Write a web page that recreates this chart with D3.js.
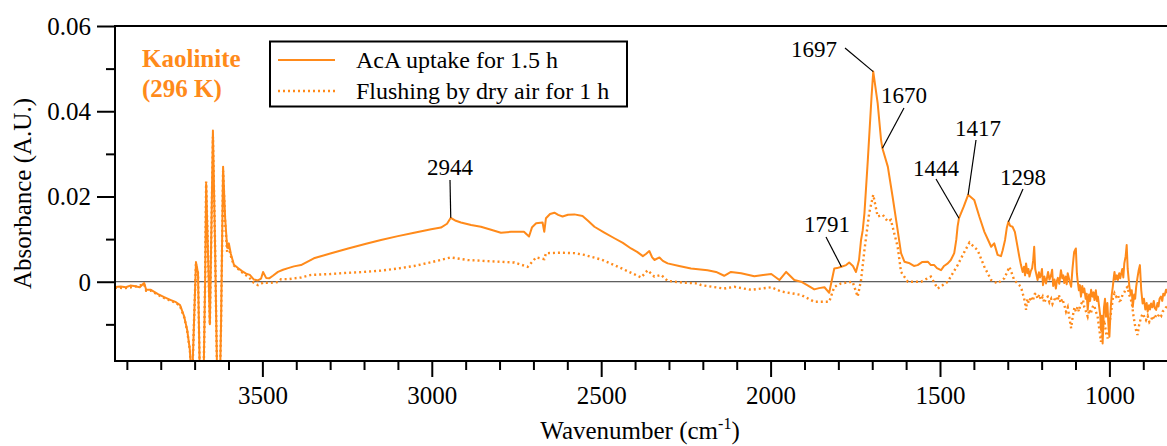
<!DOCTYPE html>
<html><head><meta charset="utf-8">
<script src="https://cdn.jsdelivr.net/npm/d3@7"></script>
<style>
html,body{margin:0;padding:0;background:#fff;}
svg{display:block;}
svg text{font-family:"Liberation Serif","Times New Roman",serif;}
</style></head><body>
<svg id="chart" width="1167" height="446"></svg>
<script>
// Axis ticks
const majorWavenumbers = [3500, 3000, 2500, 2000, 1500, 1000];
const minorWavenumbers = [3900, 3800, 3700, 3600, 3400, 3300, 3200, 3100, 2900, 2800, 2700, 2600,
  2400, 2300, 2200, 2100, 1900, 1800, 1700, 1600, 1400, 1300, 1200, 1100, 900];
const majorAbsorbance = [0, 0.02, 0.04, 0.06];
const majorAbsorbanceLabels = ["0", "0.02", "0.04", "0.06"];
const minorAbsorbance = [-0.01, 0.01, 0.03, 0.05];

// Series names
const seriesNames = ["AcA uptake for 1.5 h", "Flushing by dry air for 1 h"];
const sampleName = ["Kaolinite", "(296 K)"];

// Labelled band positions (cm-1)
const peakLabels = [2944, 1791, 1697, 1670, 1444, 1417, 1298];

// Spectrum after 1.5 h of acetic acid uptake: [wavenumber, absorbance]
const uptake = [
[3935,-0.00125],[3918,-0.0011],[3903,-0.0013],[3890,-0.0009],[3879,-0.0010],[3862,-0.0013],[3849,-0.0003],[3843,-0.0019],[3829,-0.0019],[3808,-0.0029],
[3790,-0.0036],[3770,-0.0043],[3755,-0.0048],[3743,-0.0055],[3731,-0.0081],[3722,-0.0113],[3714,-0.016],
[3708,-0.025],[3702,-0.01],[3696,0.0046],[3690,0.002],[3684,-0.025],[3675,-0.03],[3669,0.0],[3666,0.023],
[3660,0.005],[3655,-0.01],[3649,0.02],[3646,0.0355],[3640,0.01],[3634,-0.02],[3628,-0.035],[3622,-0.01],
[3616,0.027],[3610,0.015],[3604,0.008],[3599,0.009],[3593,0.0065],[3584,0.0040],[3572,0.0032],[3560,0.0025],
[3548,0.0019],[3537,0.0016],[3525,0.0005],[3513,0.0003],[3504,0.0007],[3498,0.0023],[3489,0.0009],[3480,0.0008],
[3469,0.0014],[3454,0.0023],[3439,0.0028],[3424,0.0032],[3407,0.0036],[3386,0.0039],[3348,0.0055],[3297,0.0067],
[3247,0.0078],[3194,0.0089],[3150,0.0098],[3100,0.0107],[3052,0.0115],[3002,0.0123],[2973,0.0127],[2955,0.0136],
[2944,0.0150],[2929,0.0143],[2914,0.0139],[2884,0.0133],[2855,0.0129],[2825,0.0122],[2796,0.0115],[2766,0.0117],
[2728,0.0117],[2713,0.0106],[2704,0.0128],[2692,0.0137],[2673,0.0139],[2668,0.0117],[2663,0.0149],[2651,0.0159],
[2638,0.0162],[2627,0.0157],[2614,0.0153],[2598,0.0157],[2579,0.0158],[2555,0.0154],[2539,0.0143],[2520,0.0129],
[2492,0.0116],[2461,0.0102],[2436,0.0091],[2412,0.0078],[2394,0.0070],[2377,0.0060],[2368,0.0065],[2358,0.0072],
[2350,0.0058],[2343,0.0051],[2328,0.0057],[2318,0.0049],[2304,0.0043],[2270,0.0037],[2235,0.0031],[2186,0.0027],
[2161,0.0023],[2137,0.0014],[2117,0.0023],[2087,0.0020],[2048,0.0013],[2022,0.0016],[1998,0.0018],[1974,0.0004],
[1954,0.0023],[1930,0.0004],[1910,0.0],[1892,-0.0008],[1871,-0.0018],[1857,-0.0015],[1841,-0.0013],[1827,-0.0026],
[1812,0.0031],[1804,0.0032],[1791,0.0035],[1777,0.0039],[1768,0.0045],[1757,0.0037],[1748,0.0023],[1739,0.0051],
[1733,0.0098],[1728,0.0121],[1723,0.0161],[1713,0.0286],[1702,0.0435],[1697,0.0493],[1684,0.0419],[1674,0.0333],
[1670,0.0313],[1654,0.0270],[1640,0.0200],[1625,0.0121],[1615,0.0067],[1605,0.0047],[1592,0.0044],[1577,0.0037],
[1566,0.0039],[1553,0.0046],[1536,0.0047],[1527,0.0039],[1517,0.0039],[1509,0.0032],[1497,0.0027],[1488,0.0037],
[1477,0.0043],[1468,0.0051],[1458,0.0067],[1452,0.0098],[1448,0.0130],[1444,0.0149],[1430,0.0176],[1417,0.0204],
[1399,0.0192],[1384,0.0153],[1369,0.0117],[1358,0.0098],[1349,0.0082],[1340,0.0090],[1330,0.0063],[1320,0.0060],
[1315,0.0074],[1308,0.0098],[1303,0.0126],[1298,0.0141],[1293,0.0131],[1286,0.0129],[1279,0.0117],[1272,0.0086],
[1266,0.0059],[1261,0.0039],[1256,0.0023],[1252,0.0035],[1249,0.0015],[1246,0.0043],[1242,0.0020],[1239,0.0030],
[1236,0.0012],[1232,0.0025],[1228,0.0032],[1225,0.0050],[1222,0.0082],[1219,0.0030],[1215,0.0015],[1212,0.0004],
[1208,0.0022],[1205,0.0010],[1202,0.0016],[1199,0.0030],[1196,-0.0008],[1192,0.0012],[1187,-0.0004],[1184,0.0010],
[1181,0.0023],[1177,0.0005],[1172,0.0016],[1169,0.0028],[1166,-0.0010],[1162,0.0005],[1158,-0.0016],[1155,0.0002],
[1152,0.0009],[1148,-0.0005],[1143,0.0027],[1139,0.0008],[1136,0.0015],[1133,-0.0003],[1129,0.0012],[1126,-0.0006],
[1123,0.0020],[1118,0.0003],[1113,-0.0012],[1109,0.0030],[1106,0.0055],[1104,0.0070],[1099,0.0078],[1096,0.0020],
[1094,0.0004],[1090,-0.0020],[1087,-0.0008],[1084,-0.0035],[1080,-0.0010],[1077,-0.0025],[1074,-0.0016],[1070,-0.0040],
[1067,-0.0028],[1064,-0.0066],[1060,-0.0030],[1057,-0.0045],[1054,-0.0019],[1050,-0.0035],[1047,-0.0025],[1044,-0.0043],
[1040,-0.0020],[1037,-0.0045],[1034,-0.0035],[1030,-0.0060],[1027,-0.0080],[1025,-0.0113],[1022,-0.0080],[1020,-0.0145],
[1016,-0.0060],[1013,-0.0040],[1010,-0.0082],[1006,-0.0050],[1003,-0.0100],[1000,-0.0129],[996,-0.0060],[993,-0.0030],
[990,-0.0012],[987,0.0010],[985,0.0023],[982,0.0005],[978,0.0015],[975,0.0004],[971,0.0020],[968,0.0008],
[966,0.0016],[962,0.0030],[959,0.0010],[956,0.0043],[952,0.0060],[949,0.0086],[946,0.0030],[943,0.0005],
[941,-0.0012],[937,-0.0030],[934,-0.0020],[931,-0.0059],[927,-0.0030],[924,-0.0040],[921,-0.0012],[917,0.0010],
[914,0.0025],[910,0.0039],[906,-0.0020],[902,-0.0051],[898,-0.0040],[894,-0.0065],[890,-0.0050],[887,-0.0070],
[883,-0.0055],[880,-0.0065],[877,-0.0051],[873,-0.0060],[869,-0.0045],[866,-0.0062],[862,-0.0066],[858,-0.0050],
[855,-0.0058],[852,-0.0040],[848,-0.0035],[844,-0.0045],[841,-0.0028],[837,-0.0032],[833,-0.0019],[830,-0.0025],
[827,-0.0015]
];

// Spectrum after 1 h of flushing with dry air: [wavenumber, absorbance]
const flushing = [
[3935,-0.0014],[3903,-0.0015],[3879,-0.0012],[3849,-0.0006],[3843,-0.0021],[3829,-0.0021],[3808,-0.0031],
[3790,-0.0038],[3770,-0.0045],[3755,-0.0050],[3743,-0.0057],[3731,-0.0083],[3722,-0.0115],[3714,-0.016],
[3708,-0.025],[3702,-0.01],[3696,0.0042],[3690,0.002],[3684,-0.025],[3675,-0.03],[3669,0.0],[3666,0.0235],
[3660,0.005],[3655,-0.01],[3649,0.019],[3646,0.034],[3640,0.01],[3634,-0.02],[3628,-0.035],[3622,-0.01],
[3616,0.026],[3610,0.014],[3604,0.007],[3599,0.008],[3593,0.0060],[3584,0.0038],[3572,0.0030],[3560,0.0022],
[3548,0.0015],[3537,0.0008],[3525,-0.0003],[3513,-0.0008],[3498,-0.0002],[3480,-0.0003],[3454,-0.0001],[3445,0.0006],
[3424,0.0006],[3386,0.0010],[3356,0.0016],[3300,0.0018],[3248,0.0021],[3200,0.0023],[3150,0.0026],[3100,0.0031],
[3052,0.0037],[3000,0.0046],[2944,0.0057],[2894,0.0051],[2850,0.0049],[2800,0.0047],[2756,0.0045],[2717,0.0035],
[2692,0.0057],[2668,0.0053],[2663,0.0067],[2620,0.0068],[2579,0.0067],[2550,0.0063],[2500,0.0052],[2461,0.0039],
[2420,0.0024],[2382,0.0010],[2363,0.0027],[2343,0.0012],[2323,0.0016],[2304,0.0002],[2260,-0.0002],[2215,-0.0004],
[2205,-0.0008],[2137,-0.0016],[2107,-0.0012],[2058,-0.0019],[1998,-0.0013],[1969,-0.0023],[1939,-0.0027],[1910,-0.0031],
[1871,-0.0047],[1827,-0.0047],[1812,-0.0012],[1792,-0.0004],[1758,0.0],[1743,-0.0035],[1733,0.0004],[1723,0.0074],
[1709,0.0161],[1697,0.0204],[1684,0.0153],[1669,0.0157],[1654,0.0141],[1645,0.0145],[1625,0.0082],[1615,0.0023],
[1595,0.0],[1556,0.0],[1527,0.0012],[1507,-0.0016],[1477,0.0],[1448,0.0039],[1428,0.0070],[1413,0.0092],
[1389,0.0074],[1369,0.0035],[1349,0.0004],[1330,-0.0004],[1310,0.0008],[1295,0.0035],[1281,0.0004],[1261,-0.0012],
[1255,-0.0030],[1250,-0.0045],[1246,-0.0066],[1242,-0.0040],[1238,-0.0050],[1231,-0.0035],[1226,-0.0045],[1221,-0.0030],
[1217,-0.0027],[1212,-0.0040],[1207,-0.0030],[1202,-0.0043],[1197,-0.0035],[1192,-0.0050],[1187,-0.0038],[1182,-0.0035],
[1177,-0.0048],[1172,-0.0040],[1168,-0.0052],[1163,-0.0043],[1158,-0.0035],[1153,-0.0045],[1149,-0.0031],[1144,-0.0050],
[1139,-0.0040],[1133,-0.0055],[1128,-0.0070],[1123,-0.0060],[1118,-0.0085],[1113,-0.0109],[1108,-0.0080],[1103,-0.0060],
[1099,-0.0070],[1094,-0.0059],[1090,-0.0070],[1086,-0.0055],[1082,-0.0050],[1078,-0.0043],[1074,-0.0060],[1069,-0.0070],
[1064,-0.0082],[1059,-0.0065],[1055,-0.0075],[1050,-0.0060],[1045,-0.0055],[1040,-0.0070],[1035,-0.0080],[1030,-0.0110],
[1025,-0.0141],[1020,-0.0110],[1015,-0.0090],[1010,-0.0120],[1005,-0.0133],[1000,-0.0100],[995,-0.0070],[990,-0.0040],
[985,-0.0027],[980,-0.0035],[975,-0.0030],[970,-0.0045],[966,-0.0043],[961,-0.0030],[956,-0.0025],[951,-0.0015],
[946,-0.0012],[942,-0.0030],[937,-0.0040],[933,-0.0055],[929,-0.0080],[925,-0.0100],[921,-0.0115],[917,-0.0125],
[912,-0.0100],[907,-0.0085],[902,-0.0075],[897,-0.0082],[892,-0.0090],[887,-0.0080],[882,-0.0095],[877,-0.0090],
[872,-0.0080],[867,-0.0088],[862,-0.0078],[857,-0.0082],[852,-0.0075],[847,-0.0080],[843,-0.0070],[838,-0.0066],
[833,-0.0060],[827,-0.0057]
];

// ---------- layout ----------
const W = 1167, H = 446;
const plot = {left: 115, right: 1167, top: 26, bottom: 361};
const orange = "#ff8a1a";
const serif = "'Liberation Serif','Times New Roman',serif";
const axisFont = 25;

const svg = d3.select("#chart");

const x = d3.scaleLinear().domain([3935, 830]).range([plot.left, plot.right]);
const y = d3.scaleLinear().domain([-0.0186, 0.06]).range([plot.bottom, plot.top]);

svg.append("defs").append("clipPath").attr("id", "plotClip")
  .append("rect")
  .attr("x", plot.left).attr("y", plot.top)
  .attr("width", plot.right - plot.left).attr("height", plot.bottom - plot.top);

// zero baseline
svg.append("line")
  .attr("x1", plot.left).attr("x2", plot.right)
  .attr("y1", y(0)).attr("y2", y(0))
  .attr("stroke", "#333").attr("stroke-width", 1);

// spectra
const line = d3.line().x(d => x(d[0])).y(d => y(d[1]));
const traces = svg.append("g").attr("clip-path", "url(#plotClip)");
traces.append("path").datum(flushing)
  .attr("d", line).attr("fill", "none")
  .attr("stroke", orange).attr("stroke-width", 2.4)
  .attr("stroke-dasharray", "2,3");
traces.append("path").datum(uptake)
  .attr("d", line).attr("fill", "none")
  .attr("stroke", orange).attr("stroke-width", 2).attr("stroke-linejoin", "round");

// ---------- axes ----------
function styleAxis(g) {
  g.attr("font-family", serif).attr("font-size", axisFont);
  g.select(".domain").remove();
  g.selectAll(".tick line").attr("stroke", "#000").attr("stroke-width", 2);
  g.selectAll("text").attr("fill", "#000").style("font-family", serif).style("font-size", axisFont + "px");
}

// x axis, minor then major ticks
svg.append("g").attr("transform", `translate(0,${plot.bottom})`)
  .call(d3.axisBottom(x).tickValues(minorWavenumbers).tickSize(9).tickFormat(""))
  .call(styleAxis);
const gx = svg.append("g").attr("transform", `translate(0,${plot.bottom})`)
  .call(d3.axisBottom(x).tickValues(majorWavenumbers).tickSize(16).tickFormat(d3.format("d")))
  .call(styleAxis);
gx.selectAll("text").attr("y", 43).attr("dy", null);

// y axis, minor then major ticks
svg.append("g").attr("transform", `translate(${plot.left},0)`)
  .call(d3.axisLeft(y).tickValues(minorAbsorbance).tickSize(9).tickFormat(""))
  .call(styleAxis);
const gy = svg.append("g").attr("transform", `translate(${plot.left},0)`)
  .call(d3.axisLeft(y).tickValues(majorAbsorbance).tickSize(18)
    .tickFormat((d, i) => majorAbsorbanceLabels[i]))
  .call(styleAxis);
gy.selectAll("text").attr("x", -24).attr("dy", "0.34em");

// frame: left, bottom and top edges
const frame = svg.append("g").attr("stroke", "#000").attr("stroke-width", 2).attr("fill", "none");
frame.append("line").attr("x1", plot.left).attr("x2", plot.left).attr("y1", plot.top - 1).attr("y2", plot.bottom + 1);
frame.append("line").attr("x1", plot.left - 1).attr("x2", W).attr("y1", plot.bottom).attr("y2", plot.bottom);
frame.append("line").attr("x1", plot.left - 1).attr("x2", W).attr("y1", plot.top).attr("y2", plot.top);

// axis titles
svg.append("text")
  .attr("transform", `translate(31,${(plot.top + plot.bottom) / 2}) rotate(-90)`)
  .attr("text-anchor", "middle").style("font-size", axisFont + "px")
  .text("Absorbance (A.U.)");
const xt = svg.append("text")
  .attr("x", 640).attr("y", 439).attr("text-anchor", "middle").style("font-size", axisFont + "px");
xt.append("tspan").text("Wavenumber (cm");
xt.append("tspan").attr("dy", -10).style("font-size", "16px").text("-1");
xt.append("tspan").attr("dy", 10).text(")");

// ---------- sample label ----------
svg.append("text").attr("x", 142).attr("y", 67)
  .attr("font-weight", "bold").style("font-size", "25px").attr("fill", orange).text(sampleName[0]);
svg.append("text").attr("x", 142).attr("y", 97)
  .attr("font-weight", "bold").style("font-size", "25px").attr("fill", orange).text(sampleName[1]);

// ---------- legend ----------
const legend = svg.append("g");
legend.append("rect").attr("x", 270).attr("y", 41.5).attr("width", 357).attr("height", 65)
  .attr("fill", "#fff").attr("stroke", "#000").attr("stroke-width", 2);
legend.append("line").attr("x1", 278).attr("x2", 335).attr("y1", 60).attr("y2", 60)
  .attr("stroke", orange).attr("stroke-width", 2);
legend.append("line").attr("x1", 278).attr("x2", 335).attr("y1", 91).attr("y2", 91)
  .attr("stroke", orange).attr("stroke-width", 2.4).attr("stroke-dasharray", "2,3");
legend.append("text").attr("x", 356).attr("y", 67.5).style("font-size", "24px").text(seriesNames[0]);
legend.append("text").attr("x", 356).attr("y", 98.5).style("font-size", "24px").text(seriesNames[1]);

// ---------- band annotations ----------
const peakLayout = {
  2944: {tx: 450, ty: 175, anchor: "middle", lx: 450, ly: 180},
  1791: {tx: 804, ty: 232, anchor: "start", lx: 826, ly: 237},
  1697: {tx: 837, ty: 57, anchor: "end", lx: 845, ly: 48},
  1670: {tx: 881, ty: 103, anchor: "start", lx: 904, ly: 108},
  1444: {tx: 913, ty: 176, anchor: "start", lx: 936, ly: 179},
  1417: {tx: 955, ty: 136, anchor: "start", lx: 976, ly: 140},
  1298: {tx: 1000, ty: 185, anchor: "start", lx: 1023, ly: 189}
};
const ann = svg.append("g");
peakLabels.forEach(wn => {
  const p = uptake.find(d => d[0] === wn);
  const L = peakLayout[wn];
  ann.append("line").attr("x1", L.lx).attr("y1", L.ly).attr("x2", x(p[0])).attr("y2", y(p[1]))
    .attr("stroke", "#000").attr("stroke-width", 1.2);
  ann.append("text").attr("x", L.tx).attr("y", L.ty).attr("text-anchor", L.anchor)
    .style("font-size", "23px").text(wn);
});
</script>
</body></html>
